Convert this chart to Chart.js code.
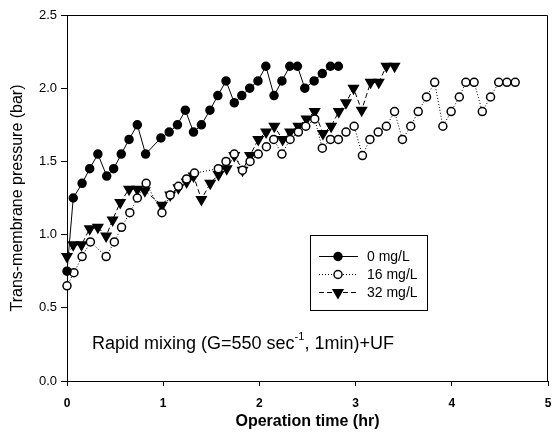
<!DOCTYPE html>
<html>
<head>
<meta charset="utf-8">
<title>Trans-membrane pressure</title>
<script src="https://cdn.jsdelivr.net/npm/chart.js@4/dist/chart.umd.min.js"></script>
<style>
    html, body { margin: 0; padding: 0; background: #fff; }
    #tmpChart { display: block; }
</style>
</head>
<body>
<canvas id="tmpChart" width="555" height="448"></canvas>
<script>
'use strict';

// Data: operation time (hr) and pressure (bar)
const time0 = [0, 0.065, 0.157, 0.236, 0.321, 0.413, 0.485, 0.564, 0.645, 0.731, 0.817, 0.976, 1.062, 1.148, 1.230, 1.315, 1.397, 1.486, 1.568, 1.653, 1.739, 1.817, 1.899, 1.985, 2.067, 2.152, 2.234, 2.316, 2.395, 2.472, 2.569, 2.654, 2.739, 2.821];
const pressure0 = [0.75, 1.25, 1.35, 1.45, 1.55, 1.40, 1.45, 1.55, 1.65, 1.75, 1.55, 1.66, 1.70, 1.75, 1.85, 1.70, 1.75, 1.85, 1.95, 2.05, 1.90, 1.95, 2.00, 2.05, 2.15, 1.95, 2.05, 2.15, 2.15, 2.00, 2.05, 2.10, 2.15, 2.15];

const time16 = [0, 0.072, 0.157, 0.243, 0.407, 0.492, 0.567, 0.653, 0.731, 0.823, 0.987, 1.073, 1.158, 1.243, 1.325, 1.573, 1.653, 1.739, 1.824, 1.903, 1.988, 2.073, 2.149, 2.234, 2.319, 2.405, 2.482, 2.575, 2.654, 2.739, 2.821, 2.900, 2.985, 3.071, 3.149, 3.235, 3.320, 3.405, 3.487, 3.573, 3.651, 3.737, 3.822, 3.907, 3.993, 4.078, 4.146, 4.232, 4.317, 4.403, 4.488, 4.573, 4.659];
const pressure16 = [0.65, 0.74, 0.85, 0.95, 0.85, 0.95, 1.05, 1.15, 1.25, 1.35, 1.15, 1.27, 1.33, 1.38, 1.42, 1.45, 1.50, 1.55, 1.44, 1.50, 1.55, 1.60, 1.65, 1.55, 1.65, 1.70, 1.74, 1.79, 1.59, 1.65, 1.65, 1.70, 1.74, 1.54, 1.65, 1.70, 1.74, 1.84, 1.65, 1.74, 1.84, 1.94, 2.04, 1.74, 1.84, 1.94, 2.04, 2.04, 1.84, 1.94, 2.04, 2.04, 2.04];

const time32 = [0, 0.065, 0.151, 0.236, 0.321, 0.407, 0.474, 0.553, 0.645, 0.731, 0.809, 0.987, 1.073, 1.158, 1.243, 1.316, 1.397, 1.489, 1.575, 1.660, 1.739, 1.824, 1.903, 1.988, 2.070, 2.155, 2.241, 2.319, 2.405, 2.490, 2.575, 2.661, 2.746, 2.825, 2.900, 2.978, 3.063, 3.156, 3.241, 3.320, 3.405];
const pressure32 = [0.85, 0.93, 0.93, 1.04, 1.05, 0.99, 1.10, 1.22, 1.31, 1.31, 1.30, 1.20, 1.27, 1.32, 1.36, 1.40, 1.24, 1.35, 1.41, 1.45, 1.54, 1.44, 1.54, 1.65, 1.70, 1.74, 1.65, 1.70, 1.74, 1.79, 1.84, 1.69, 1.74, 1.84, 1.90, 2.00, 1.85, 2.04, 2.04, 2.15, 2.15];

const seriesLabels = ['0 mg/L', '16 mg/L', '32 mg/L'];
const xTicks = [0, 1, 2, 3, 4, 5];
const yTicks = [0, 0.5, 1.0, 1.5, 2.0, 2.5];

const FONT = 'Arial, "Liberation Sans", sans-serif';

const PressureChart = {
    config: {
        selector: '#tmpChart',
        styles: [
            { pointStyle: 'circle', radius: 4, rotation: 0, fill: '#000', dash: [] },
            { pointStyle: 'circle', radius: 4, rotation: 0, fill: '#fff', dash: [1, 2] },
            { pointStyle: 'triangle', radius: 5.5, rotation: 180, fill: '#000', dash: [5, 3] }
        ]
    },

    init() {
        const canvas = document.querySelector(this.config.selector);
        const pairs = [[time0, pressure0], [time16, pressure16], [time32, pressure32]];

        const datasets = pairs.map(([t, p], i) => {
            const s = this.config.styles[i];
            return {
                label: seriesLabels[i],
                data: t.map((x, k) => ({ x: x, y: p[k] })),
                borderColor: '#000',
                borderWidth: 1,
                borderDash: s.dash,
                backgroundColor: s.fill,
                pointStyle: s.pointStyle,
                pointRadius: s.radius,
                pointRotation: s.rotation,
                pointBackgroundColor: s.fill,
                pointBorderColor: '#000',
                pointBorderWidth: 1.5,
                tension: 0,
                clip: false
            };
        });

        new Chart(canvas, {
            type: 'line',
            data: { datasets: datasets },
            options: {
                responsive: false,
                animation: false,
                events: [],
                layout: { padding: { top: 15, right: 1, left: 0, bottom: 0 } },
                plugins: {
                    legend: { display: false },
                    tooltip: { enabled: false }
                },
                scales: {
                    x: {
                        type: 'linear',
                        min: 0,
                        max: 5,
                        afterBuildTicks: (scale) => { scale.ticks = xTicks.map(v => ({ value: v })); },
                        afterFit: (scale) => {
                            scale.height = 67;
                            scale.paddingLeft = 0;
                            scale.paddingRight = 0;
                        },
                        grid: { display: true, drawOnChartArea: false, tickLength: 5, color: '#000' },
                        border: { display: true, color: '#000', width: 1 },
                        ticks: {
                            color: '#000',
                            padding: 10,
                            maxRotation: 0,
                            font: { family: FONT, size: 12, weight: 'bold' }
                        },
                        title: {
                            display: true,
                            text: 'Operation time (hr)',
                            color: '#000',
                            padding: { top: 0, bottom: 17 },
                            font: { family: FONT, size: 16, weight: 'bold' }
                        }
                    },
                    y: {
                        min: 0,
                        max: 2.5,
                        afterBuildTicks: (scale) => { scale.ticks = yTicks.map(v => ({ value: v })); },
                        afterFit: (scale) => { scale.width = 67; },
                        grid: { display: true, drawOnChartArea: false, tickLength: 6, color: '#000' },
                        border: { display: true, color: '#000', width: 1 },
                        ticks: {
                            color: '#000',
                            padding: 4,
                            callback: (v) => v.toFixed(1),
                            font: { family: FONT, size: 13 }
                        },
                        title: {
                            display: true,
                            text: 'Trans-membrane pressure (bar)',
                            color: '#000',
                            padding: { top: 8, bottom: 0 },
                            font: { family: FONT, size: 16 }
                        }
                    }
                }
            },
            plugins: [this.framePlugin(), this.notesPlugin()]
        });
    },

    // Top and right edges of the plot box
    framePlugin() {
        return {
            id: 'frame',
            afterDraw(chart) {
                const { ctx, chartArea: a } = chart;
                ctx.save();
                ctx.strokeStyle = '#000';
                ctx.lineWidth = 1;
                ctx.beginPath();
                ctx.moveTo(a.left, a.top + 0.5);
                ctx.lineTo(a.right - 0.5, a.top + 0.5);
                ctx.lineTo(a.right - 0.5, a.bottom);
                ctx.stroke();
                ctx.restore();
            }
        };
    },

    // Boxed legend and the condition note
    notesPlugin() {
        const styles = this.config.styles;
        return {
            id: 'notes',
            afterDraw(chart) {
                const ctx = chart.ctx;
                ctx.save();

                // legend box
                ctx.strokeStyle = '#000';
                ctx.lineWidth = 1;
                ctx.strokeRect(310.5, 235.5, 117, 75);

                const rows = [256, 274, 292];
                rows.forEach((y, i) => {
                    const s = styles[i];
                    ctx.setLineDash(s.dash);
                    ctx.beginPath();
                    ctx.moveTo(319, y + 0.5);
                    ctx.lineTo(358, y + 0.5);
                    ctx.stroke();
                    ctx.setLineDash([]);
                    ctx.fillStyle = s.fill;
                    ctx.lineWidth = 1.5;
                    Chart.helpers.drawPoint(ctx, {
                        pointStyle: s.pointStyle,
                        radius: s.radius,
                        rotation: s.rotation,
                        borderWidth: 1.5
                    }, 338, y + 0.5);
                    ctx.lineWidth = 1;

                    ctx.fillStyle = '#000';
                    ctx.font = '14px ' + FONT;
                    ctx.textBaseline = 'middle';
                    ctx.textAlign = 'left';
                    ctx.fillText(seriesLabels[i], 367, y + 1);
                });

                // condition note with superscript
                const x0 = 92, base = 349;
                ctx.fillStyle = '#000';
                ctx.textBaseline = 'alphabetic';
                ctx.font = '18px ' + FONT;
                const part1 = 'Rapid mixing (G=550 sec';
                ctx.fillText(part1, x0, base);
                let x = x0 + ctx.measureText(part1).width;
                ctx.font = '11px ' + FONT;
                ctx.fillText('-1', x, base - 9);
                x += ctx.measureText('-1').width;
                ctx.font = '18px ' + FONT;
                ctx.fillText(', 1min)+UF', x, base);

                ctx.restore();
            }
        };
    }
};

document.addEventListener('DOMContentLoaded', () => {
    PressureChart.init();
});
</script>
</body>
</html>
